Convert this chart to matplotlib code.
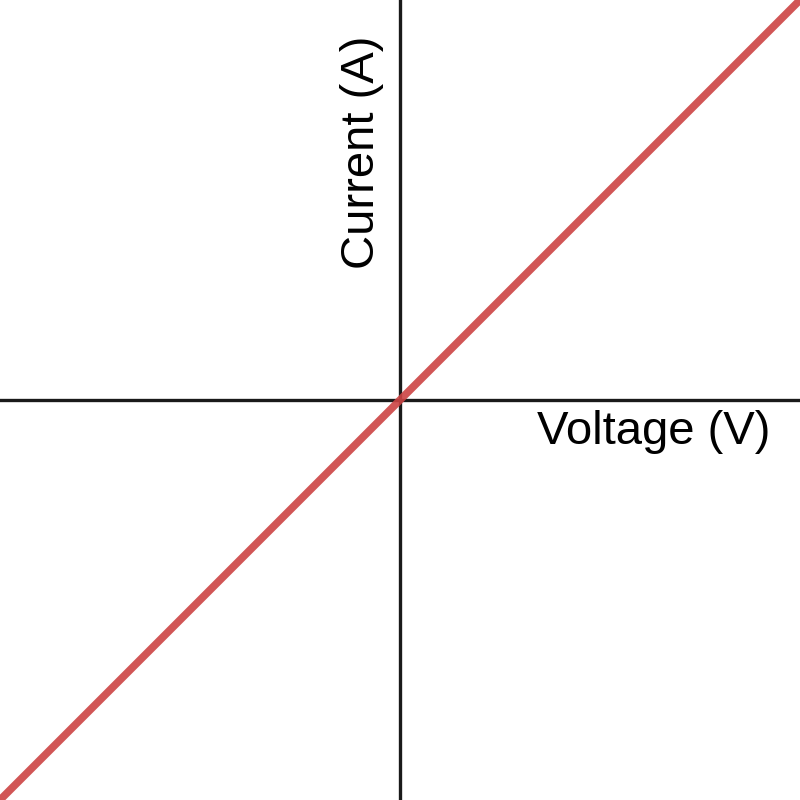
import matplotlib
matplotlib.use("Agg")
import matplotlib.pyplot as plt

# I-V characteristic of an ohmic conductor
voltage = [-1.0, 1.0]
current = [-1.0, 1.0]
x_label = "Voltage (V)"
y_label = "Current (A)"

plt.rcParams['font.family'] = ['Liberation Sans', 'DejaVu Sans']

fig = plt.figure(figsize=(8, 8), dpi=100)
ax = fig.add_axes([0, 0, 1, 1])
ax.set_xlim(-1, 1)
ax.set_ylim(-1, 1)

# axes through the origin
ax.axhline(0, color="#1a1a1a", lw=2.4, zorder=1)
ax.axvline(0, color="#1a1a1a", lw=2.4, zorder=1)

ax.plot(voltage, current, color="#cc4444", lw=5.5, alpha=0.9,
        solid_capstyle="butt", zorder=2)

ax.text(0.925, -0.025, x_label, fontsize=34, ha="right", va="top")
ax.text(-0.04, 0.62, y_label, fontsize=34, rotation=90, ha="right", va="center")

for s in ax.spines.values():
    s.set_visible(False)
ax.set_xticks([])
ax.set_yticks([])

fig.savefig("out.png", dpi=100)
